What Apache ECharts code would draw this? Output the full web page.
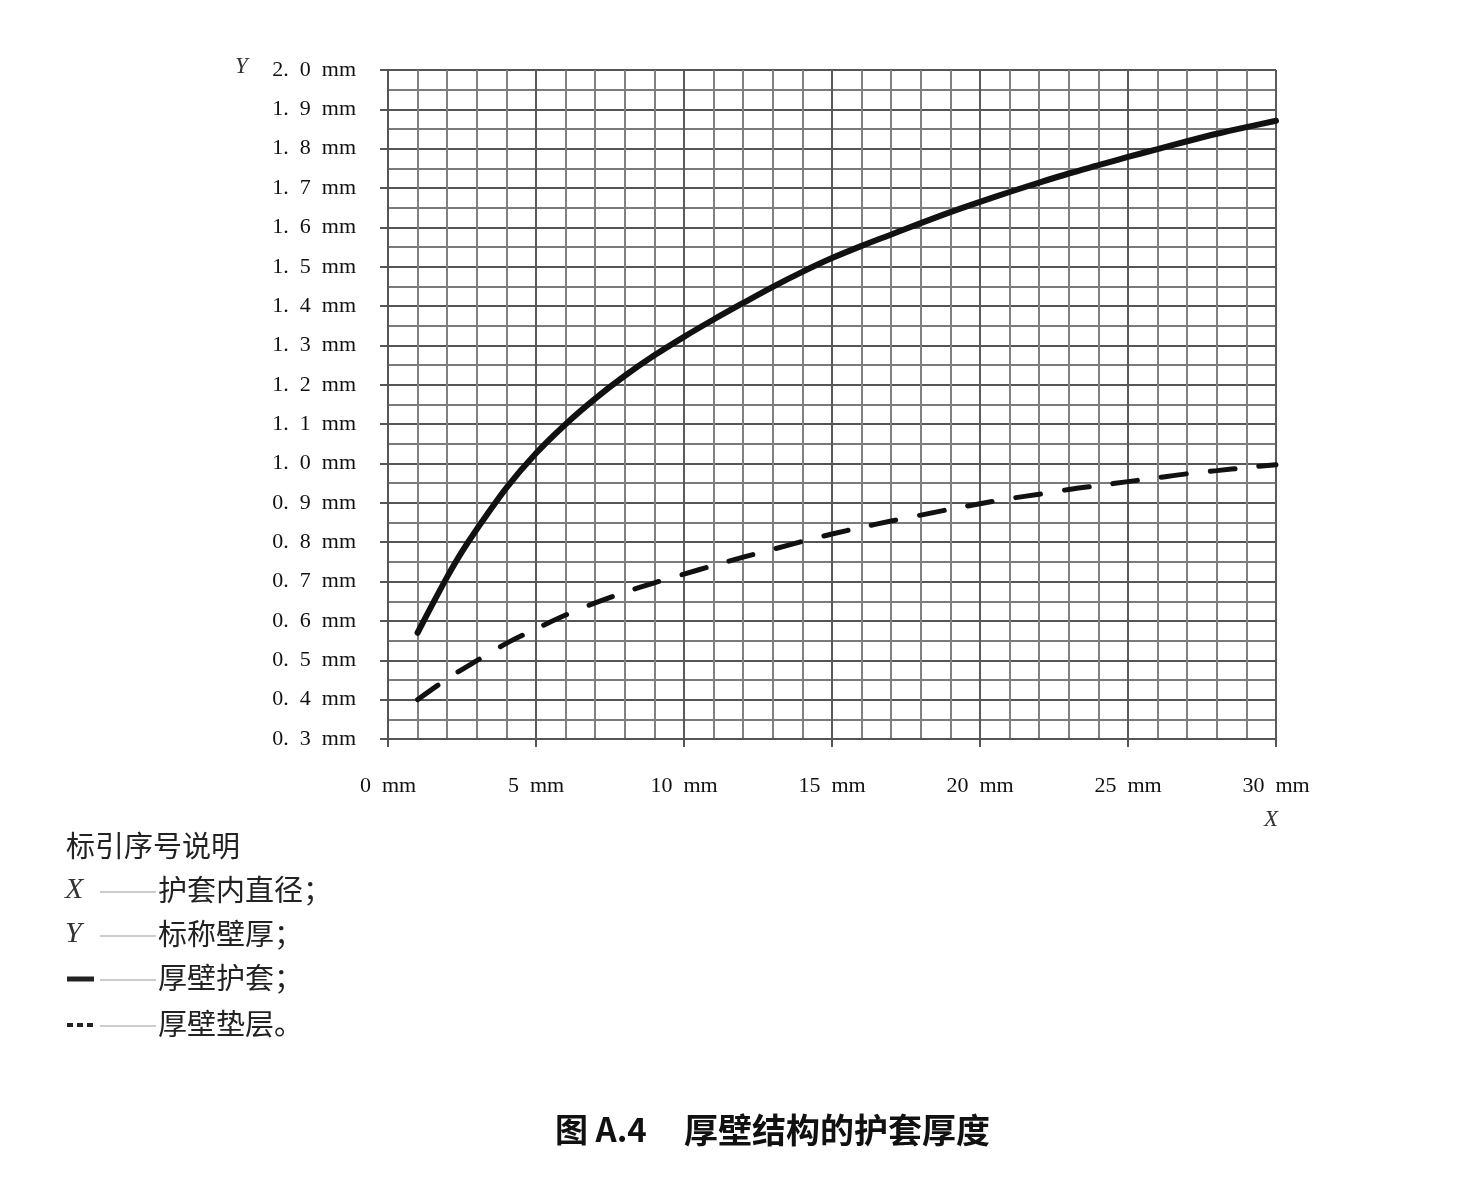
<!DOCTYPE html>
<html>
<head>
<meta charset="utf-8">
<script src="https://cdn.jsdelivr.net/npm/echarts@6/dist/echarts.min.js"></script>
<style>
html,body{margin:0;padding:0;background:#fff;}
#chart{width:1458px;height:1180px;}
</style>
</head>
<body>
<div id="chart"></div>
<script>
// 护套内直径 X (mm)
var xJacket = [1, 1.5, 2, 2.5, 3, 4, 5, 6, 7, 8, 9, 10, 11, 12, 13, 14, 15, 16, 17, 18, 19, 20, 21, 22, 23, 24, 25, 26, 27, 28, 29, 30];
// 厚壁护套 标称壁厚 (mm)
var yJacket = [0.57, 0.642, 0.712, 0.776, 0.833, 0.938, 1.026, 1.100, 1.165, 1.223, 1.275, 1.322, 1.366, 1.408, 1.449, 1.487, 1.522, 1.553, 1.582, 1.611, 1.639, 1.665, 1.690, 1.714, 1.737, 1.758, 1.779, 1.799, 1.819, 1.838, 1.855, 1.871];
var xBedding = [1, 2, 3, 4, 5, 6, 7, 8, 9, 10, 11, 12, 13, 14, 15, 16, 17, 18, 19, 20, 21, 22, 23, 24, 25, 26, 27, 28, 29, 30];
// 厚壁垫层 标称壁厚 (mm)
var yBedding = [0.40, 0.453, 0.499, 0.543, 0.580, 0.615, 0.646, 0.673, 0.697, 0.719, 0.741, 0.762, 0.782, 0.802, 0.821, 0.838, 0.854, 0.869, 0.884, 0.898, 0.911, 0.922, 0.934, 0.944, 0.954, 0.964, 0.974, 0.982, 0.990, 0.997];

var legendTitle = '标引序号说明';
var legendItems = [
  {key: 'X', text: '护套内直径；'},
  {key: 'Y', text: '标称壁厚；'},
  {key: 'solid', text: '厚壁护套；'},
  {key: 'dashed', text: '厚壁垫层。'}
];
var figNo = '图 A.4';
var figTitle = '厚壁结构的护套厚度';

function pairs(xs, ys){ return xs.map(function(x,i){ return [x, ys[i]]; }); }

var serif = '"Liberation Serif","DejaVu Serif",serif';
var cjk = '"Noto Sans CJK SC","Noto Sans CJK JP",sans-serif';

var chart = echarts.init(document.getElementById('chart'));

var graphics = [
  {type:'text', left:235, top:55, style:{text:'Y', font:'italic 23px ' + serif, fill:'#333'}},
  {type:'text', left:1264, top:808, style:{text:'X', font:'italic 23px ' + serif, fill:'#333'}},
  {type:'text', left:66, top:831, style:{text:legendTitle, font:'29px ' + cjk, fill:'#222'}}
];
var rowY = [891, 935, 979, 1025];
legendItems.forEach(function(it, i){
  var y = rowY[i];
  if (it.key === 'X' || it.key === 'Y') {
    graphics.push({type:'text', left:65, top:y-16, style:{text:it.key, font:'italic 30px ' + serif, fill:'#333'}});
  } else if (it.key === 'solid') {
    graphics.push({type:'line', shape:{x1:67, y1:y, x2:94, y2:y}, style:{stroke:'#222', lineWidth:5}});
  } else {
    graphics.push({type:'line', shape:{x1:67, y1:y, x2:96, y2:y}, style:{stroke:'#222', lineWidth:4, lineDash:[6,4]}});
  }
  graphics.push({type:'line', shape:{x1:100, y1:y+1, x2:156, y2:y+1}, style:{stroke:'#999', lineWidth:1}});
  graphics.push({type:'text', left:158, top:y-16, style:{text:it.text, font:'29px ' + cjk, fill:'#222'}});
});
graphics.push({type:'text', left:555, top:1113, style:{text:figNo, font:'bold 33px ' + cjk, fill:'#111'}});
graphics.push({type:'text', left:684, top:1113, style:{text:figTitle, font:'bold 34px ' + cjk, fill:'#111'}});

var option = {
  animation: false,
  backgroundColor: '#fff',
  grid: {left: 388, right: 182, top: 70, bottom: 441, containLabel: false},
  xAxis: {
    type: 'value', min: 0, max: 30, interval: 5,
    axisLine: {show: true, onZero: false, lineStyle: {color: '#555', width: 2}},
    axisTick: {show: true, inside: false, length: 8, lineStyle: {color: '#555', width: 2}},
    minorTick: {show: false, splitNumber: 5},
    axisLabel: {margin: 36, fontFamily: serif, fontSize: 22, color: '#111',
      formatter: function(v){ return v + '  mm'; }},
    splitLine: {show: true, lineStyle: {color: '#5a5a5a', width: 2}},
    minorSplitLine: {show: true, lineStyle: {color: '#808080', width: 2}}
  },
  yAxis: {
    type: 'value', min: 0.3, max: 2.0, interval: 0.1,
    axisLine: {show: true, onZero: false, lineStyle: {color: '#555', width: 2}},
    axisTick: {show: true, inside: false, length: 8, lineStyle: {color: '#555', width: 2}},
    minorTick: {show: false, splitNumber: 2},
    axisLabel: {margin: 32, fontFamily: serif, fontSize: 22, color: '#111',
      formatter: function(v){ var s = v.toFixed(1); return s.replace('.', '.\u2002') + '  mm'; }},
    splitLine: {show: true, lineStyle: {color: '#555', width: 2}},
    minorSplitLine: {show: true, lineStyle: {color: '#7a7a7a', width: 2}}
  },
  graphic: graphics,
  series: [
    {
      name: '厚壁护套', type: 'line', smooth: 0.3, showSymbol: false,
      data: pairs(xJacket, yJacket),
      lineStyle: {color: '#111', width: 6, cap: 'round'}
    },
    {
      name: '厚壁垫层', type: 'line', smooth: 0.3, showSymbol: false,
      data: pairs(xBedding, yBedding),
      lineStyle: {color: '#111', width: 5, type: [25, 24], cap: 'round'}
    }
  ]
};
chart.setOption(option);
</script>
</body>
</html>
